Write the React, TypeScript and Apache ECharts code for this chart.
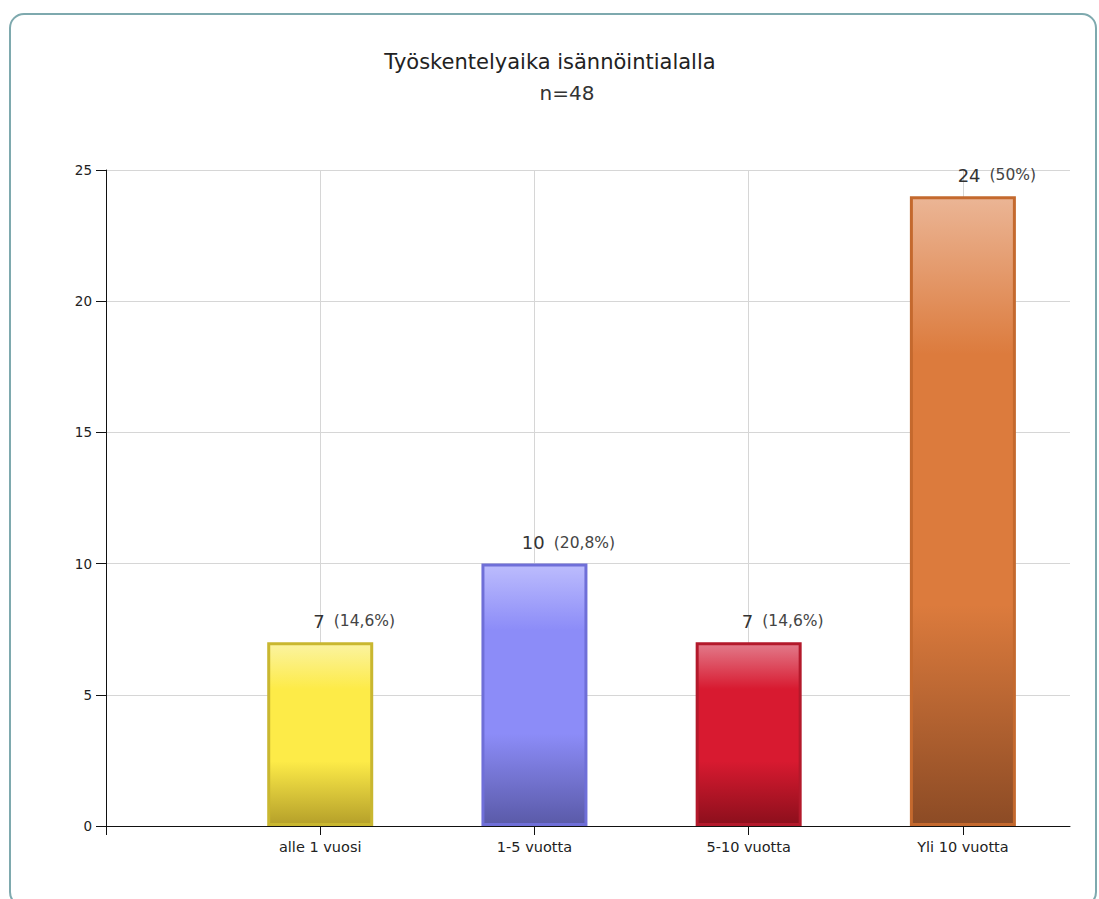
import React, { useEffect, useRef } from "react";
import * as echarts from "echarts";

const titleText = "Työskentelyaika isännöintialalla";
const subtitleText = "n=48";
const categories = ["alle 1 vuosi", "1-5 vuotta", "5-10 vuotta", "Yli 10 vuotta"];
const positions = [1, 2, 3, 4];
const counts = [7, 10, 7, 24];
const percents = ["14,6%", "20,8%", "14,6%", "50%"];
const yTicks = [0, 5, 10, 15, 20, 25];

const barColors = [
  { top: "#fbf3a0", mid: "#fdeb48", bot: "#b5a02a", border: "#c9b730" },
  { top: "#bcbcfd", mid: "#8c8cf8", bot: "#5a5aa8", border: "#6f6fd8" },
  { top: "#e27a8a", mid: "#d81a30", bot: "#8c0f1c", border: "#b3192b" },
  { top: "#ebb595", mid: "#dc7b3d", bot: "#8c4b25", border: "#c4692e" },
];

const FONT = "DejaVu Sans, Verdana, sans-serif";

export default function App() {
  const ref = useRef<HTMLDivElement>(null);
  useEffect(() => {
    if (!ref.current) return;
    const chart = echarts.init(ref.current, null, { renderer: "svg" });
    const data = positions.map((p, i) => ({
      value: [p, counts[i]],
      itemStyle: {
        color: new echarts.graphic.LinearGradient(0, 0, 0, 1, [
          { offset: 0, color: barColors[i].top },
          { offset: 0.25, color: barColors[i].mid },
          { offset: 0.65, color: barColors[i].mid },
          { offset: 1, color: barColors[i].bot },
        ]),
        borderColor: barColors[i].border,
        borderWidth: 3,
      },
      label: {
        formatter: `{n|${counts[i]}}{p|(${percents[i]})}`,
      },
    }));
    chart.setOption({
      animation: false,
      textStyle: { fontFamily: FONT },
      graphic: [
        {
          type: "rect",
          shape: { x: 10, y: 14, width: 1086, height: 892, r: 14 },
          style: { fill: "none", stroke: "#7ea9ae", lineWidth: 2 },
          silent: true,
          z: -10,
        },
        {
          type: "text",
          x: 550,
          y: 62,
          style: {
            text: titleText,
            fontFamily: FONT,
            fontSize: 21,
            fill: "#222",
            textAlign: "center",
            textVerticalAlign: "middle",
          },
        },
        {
          type: "text",
          x: 567,
          y: 93,
          style: {
            text: subtitleText,
            fontFamily: FONT,
            fontSize: 20,
            fill: "#333",
            textAlign: "center",
            textVerticalAlign: "middle",
          },
        },
      ],
      grid: { left: 106, right: 29, top: 170, bottom: 73, containLabel: false },
      xAxis: {
        type: "value",
        min: 0,
        max: 4.5,
        interval: 1,
        axisLine: { show: true, onZero: false, lineStyle: { color: "#111", width: 1 } },
        axisTick: {
          show: true,
          inside: false,
          length: 9,
          lineStyle: { color: "#111" },
          customValues: [0, 1, 2, 3, 4],
        },
        axisLabel: {
          customValues: [1, 2, 3, 4],
          formatter: (v: number) => {
            const idx = positions.indexOf(v);
            return idx >= 0 ? categories[idx] : "";
          },
          fontSize: 14.5,
          color: "#222",
          margin: 13,
        },
        splitLine: {
          show: true,
          lineStyle: { color: ["#d6d6d6", "#d6d6d6", "#d6d6d6", "#d6d6d6", "#d6d6d6", "transparent"] },
        },
      },
      yAxis: {
        type: "value",
        min: 0,
        max: 25,
        interval: 5,
        axisLine: { show: true, lineStyle: { color: "#111" } },
        axisTick: { show: true, length: 10, lineStyle: { color: "#111" } },
        axisLabel: {
          fontSize: 13.5,
          color: "#222",
          margin: 14,
          formatter: (v: number) => (yTicks.indexOf(v) >= 0 ? String(v) : ""),
        },
        splitLine: { show: true, lineStyle: { color: "#d6d6d6" } },
      },
      series: [
        {
          type: "bar",
          barWidth: 106,
          data,
          label: {
            show: true,
            position: "top",
            distance: 12,
            offset: [34, 0],
            rich: {
              n: { fontSize: 18, color: "#333", fontFamily: FONT },
              p: { fontSize: 15.5, color: "#444", fontFamily: FONT, padding: [0, 0, 0, 9] },
            },
          },
        },
      ],
    });
    return () => chart.dispose();
  }, []);
  return (
    <div
      ref={ref}
      style={{ position: "absolute", left: 0, top: 0, width: 1099, height: 899, background: "#fff" }}
    />
  );
}
